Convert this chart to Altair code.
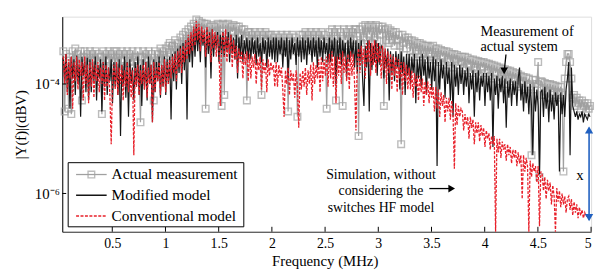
import altair as alt
import numpy as np
import pandas as pd

# Frequency bins (MHz), 0.0125 MHz spacing (397 bins)
FREQ = np.round(np.arange(0.04, 4.995, 0.0125), 4)

# log10 |Y(f)| values (one row = 0.25 MHz)
ACTUAL = [
    -3.4, -4.5, -3.45, -3.7, -4.45, -3.5, -4.55, -3.4, -3.6, -3.35, -3.65, -3.45, -3.8, -3.4, -4.3, -3.5, -3.4, -3.7, -3.45, -3.6,
    -3.4, -3.65, -3.45, -3.55, -3.4, -3.75, -3.45, -3.6, -3.5, -4.55, -3.4, -3.7, -3.45, -3.55, -3.4, -3.8, -3.45, -3.6, -3.4, -3.7,
    -3.4, -3.6, -3.45, -3.75, -3.4, -3.55, -3.45, -3.7, -3.4, -3.85, -3.45, -3.6, -3.4, -3.7, -3.5, -3.55, -3.4, -3.75, -4.7, -3.5,
    -3.4, -3.65, -3.45, -3.55, -3.4, -3.8, -3.45, -3.6, -4.3, -3.4, -3.7, -3.45, -3.55, -3.35, -3.65, -3.4, -3.6, -3.35, -3.55, -3.3,
    -3.25, -3.5, -3.3, -3.45, -3.2, -3.55, -3.25, -3.4, -3.15, -3.5, -3.1, -3.35, -3.05, -3.3, -3.0, -3.25, -2.95, -3.2, -2.9, -3.1,
    -2.82, -3.05, -2.85, -3.15, -2.88, -3.0, -2.9, -4.45, -2.9, -3.1, -2.95, -3.2, -2.92, -3.05, -2.95, -3.15, -2.9, -3.1, -2.92, -4.4,
    -2.9, -4.2, -2.92, -3.1, -2.9, -3.2, -2.95, -3.05, -2.92, -3.15, -2.95, -3.25, -2.95, -3.1, -3.0, -3.2, -3.0, -3.15, -4.3, -3.05,
    -3.05, -3.3, -3.1, -3.2, -3.05, -3.35, -3.1, -3.25, -3.05, -4.2, -3.1, -3.3, -3.05, -3.2, -3.1, -3.35, -3.1, -3.25, -3.15, -3.3,
    -3.1, -3.3, -3.15, -3.25, -3.1, -3.4, -3.15, -3.3, -3.1, -4.5, -3.15, -3.35, -3.1, -3.25, -3.15, -3.4, -4.6, -3.3, -3.1, -3.35,
    -3.1, -3.3, -3.05, -3.25, -3.1, -3.4, -3.05, -3.3, -3.1, -3.25, -3.05, -3.35, -3.1, -3.3, -3.05, -3.2, -3.1, -3.35, -4.45, -3.25,
    -3.05, -3.25, -3.0, -3.3, -3.05, -4.3, -3.0, -3.25, -3.05, -3.35, -4.4, -3.0, -3.2, -3.05, -3.3, -3.0, -3.25, -3.05, -3.2, -3.0,
    -3.0, -3.2, -4.95, -3.0, -3.25, -2.95, -3.15, -2.92, -3.2, -2.95, -3.1, -2.92, -3.25, -2.95, -3.15, -2.92, -3.2, -2.95, -3.1, -3.0,
    -2.95, -4.4, -3.0, -3.2, -2.98, -3.25, -3.02, -3.2, -3.05, -3.3, -3.05, -3.2, -3.1, -3.3, -5.1, -3.1, -3.25, -3.15, -3.35, -3.15,
    -3.2, -3.4, -3.2, -3.5, -3.22, -3.4, -3.25, -3.45, -3.25, -3.5, -3.28, -3.45, -3.3, -3.55, -3.3, -3.45, -3.32, -3.5, -3.3, -3.55,
    -3.35, -3.55, -3.35, -3.6, -3.38, -3.5, -3.4, -3.65, -3.4, -3.55, -3.42, -3.6, -3.45, -3.7, -3.45, -3.55, -3.47, -3.65, -3.5, -3.6,
    -3.5, -3.7, -3.5, -3.75, -3.52, -3.65, -3.55, -3.8, -3.55, -3.7, -3.57, -3.75, -3.58, -3.85, -3.6, -3.7, -3.6, -3.8, -3.62, -3.75,
    -3.63, -3.85, -3.65, -3.9, -3.66, -3.8, -3.68, -3.95, -3.7, -3.85, -3.72, -3.9, -3.73, -4.0, -3.75, -3.9, -3.76, -3.95, -3.78, -3.9,
    -3.8, -4.0, -3.82, -4.05, -3.85, -3.95, -3.87, -4.1, -3.88, -4.0, -3.9, -4.05, -5.3, -3.92, -4.1, -3.93, -4.0, -3.6, -5.7, -3.95,
    -3.96, -4.2, -3.98, -4.15, -4.0, -4.25, -4.0, -4.15, -4.02, -4.2, -4.03, -4.25, -4.05, -4.15, -4.05, -4.2, -5.6, -3.9, -3.6, -3.45,
    -3.45, -3.6, -3.9, -4.25, -4.2, -4.4, -4.25, -4.35, -4.3, -4.45, -4.3, -4.4, -4.35, -4.5, -4.35, -4.45, -4.4,
]

MODIFIED = [
    -3.5, -3.95, -3.45, -4.15, -3.6, -4.45, -3.5, -3.9, -3.55, -4.2, -3.48, -4.0, -3.65, -4.6, -3.5, -3.85, -3.6, -4.15, -3.52, -4.3,
    -3.55, -4.15, -3.6, -3.95, -3.5, -4.3, -3.65, -3.9, -3.55, -4.5, -3.6, -4.05, -3.5, -4.2, -3.7, -3.95, -3.55, -4.35, -3.6, -4.05,
    -3.6, -4.2, -3.55, -4.95, -3.65, -4.05, -3.5, -4.25, -3.6, -4.6, -3.55, -4.0, -3.7, -4.3, -3.6, -4.05, -3.5, -4.2, -3.65, -4.4,
    -3.55, -4.1, -3.6, -4.3, -3.5, -4.0, -3.65, -4.7, -3.55, -4.15, -3.6, -3.95, -3.5, -4.25, -3.65, -4.05, -3.5, -4.2, -3.55, -4.0,
    -3.5, -4.65, -3.45, -3.95, -3.4, -4.1, -3.35, -3.8, -3.3, -4.0, -3.25, -3.75, -3.2, -4.65, -3.15, -3.6, -3.1, -3.7, -3.0, -3.5,
    -2.95, -3.4, -3.0, -3.6, -2.97, -3.3, -3.05, -3.7, -3.0, -3.45, -3.05, -3.9, -3.0, -3.5, -3.1, -3.35, -3.05, -3.6, -3.1, -3.45,
    -3.05, -3.5, -3.1, -3.4, -3.05, -3.6, -3.1, -3.45, -3.15, -3.55, -3.1, -3.9, -3.15, -3.5, -3.1, -3.6, -3.2, -3.45, -3.15, -3.55,
    -3.2, -3.55, -3.15, -3.45, -3.2, -3.65, -3.15, -3.5, -3.25, -3.6, -3.15, -3.45, -3.2, -3.7, -3.15, -3.5, -3.2, -3.55, -3.15, -3.6,
    -3.15, -3.6, -3.2, -3.45, -3.15, -3.7, -3.2, -3.5, -3.15, -3.9, -3.2, -3.55, -3.15, -3.45, -3.25, -3.65, -3.15, -3.5, -3.2, -3.6,
    -3.15, -3.55, -3.2, -3.65, -3.15, -3.45, -3.2, -3.6, -3.15, -3.5, -3.2, -3.7, -3.15, -3.5, -3.2, -3.6, -3.15, -3.45, -3.25, -3.6,
    -3.15, -3.6, -3.2, -3.5, -3.15, -4.0, -3.2, -3.55, -3.15, -3.65, -3.2, -3.5, -3.25, -3.9, -3.2, -3.6, -3.15, -3.5, -3.2, -3.7,
    -3.2, -3.8, -3.25, -3.6, -3.2, -3.9, -4.4, -3.3, -3.7, -3.2, -4.5, -3.25, -3.75, -3.3, -3.6, -3.2, -3.85, -3.25, -3.65, -3.3,
    -3.35, -3.9, -3.4, -3.7, -3.35, -4.3, -3.4, -3.8, -3.45, -3.95, -3.4, -3.7, -3.45, -4.1, -3.4, -3.8, -3.5, -4.2, -3.45, -3.85,
    -3.45, -4.0, -3.5, -3.8, -3.45, -4.35, -3.55, -3.9, -3.5, -4.05, -3.45, -3.85, -3.55, -4.2, -3.5, -3.9, -3.6, -4.1, -3.5, -3.95,
    -3.55, -5.5, -3.6, -4.1, -3.55, -3.9, -3.65, -4.25, -3.6, -4.0, -3.7, -4.3, -3.6, -4.6, -3.65, -4.05, -3.7, -4.2, -3.65, -4.0,
    -3.7, -4.2, -3.75, -4.05, -3.7, -4.35, -3.8, -4.1, -3.75, -4.6, -3.8, -4.15, -3.75, -4.3, -3.85, -4.05, -3.8, -4.4, -3.8, -4.15,
    -3.85, -4.3, -3.8, -5.15, -3.9, -4.2, -3.85, -4.45, -3.9, -4.15, -3.85, -4.35, -3.9, -4.8, -3.95, -4.25, -3.9, -4.4, -3.95, -4.2,
    -3.95, -4.4, -3.9, -3.7, -4.3, -4.0, -4.5, -3.95, -4.35, -4.05, -4.55, -4.0, -4.4, -5.3, -4.05, -4.5, -4.1, -4.4, -5.65, -4.15,
    -4.1, -4.6, -4.05, -4.45, -4.15, -4.7, -4.1, -4.5, -4.2, -4.65, -4.15, -4.4, -4.2, -5.6, -4.15, -4.55, -4.2, -4.6, -4.1, -3.9,
    -3.6, -5.3, -3.7, -4.4, -4.5, -4.6, -4.5, -4.65, -4.55, -4.6, -4.5, -4.7, -4.55, -4.6, -4.65, -4.55, -4.6,
]

CONVENTIONAL = [
    -3.5, -4.0, -3.45, -4.2, -3.55, -3.9, -3.5, -4.45, -3.6, -3.95, -3.5, -4.1, -3.55, -3.85, -3.6, -4.3, -3.5, -4.0, -3.65, -4.35,
    -3.6, -4.05, -3.55, -4.25, -3.65, -3.95, -3.6, -4.15, -3.7, -4.0, -3.6, -4.3, -3.65, -4.05, -3.7, -4.2, -5.1, -3.9, -3.65, -4.1,
    -3.6, -4.2, -3.7, -4.0, -3.65, -4.3, -3.75, -4.05, -3.6, -4.15, -3.7, -4.25, -3.75, -5.3, -3.7, -4.05, -3.65, -4.2, -3.75, -4.0,
    -3.65, -4.1, -3.6, -4.25, -3.7, -4.0, -3.65, -4.7, -3.6, -4.15, -3.7, -3.95, -3.6, -4.2, -3.65, -4.05, -3.55, -4.15, -3.6, -4.0,
    -3.55, -3.9, -3.5, -3.8, -3.45, -3.95, -3.4, -3.7, -3.35, -3.8, -3.3, -3.6, -3.2, -3.55, -3.1, -3.45, -3.05, -3.4, -2.95, -3.3,
    -2.85, -3.2, -2.9, -3.4, -2.95, -3.25, -3.0, -3.5, -2.95, -3.3, -3.05, -3.6, -3.0, -3.35, -3.05, -3.5, -3.1, -3.3, -4.4, -3.2,
    -3.05, -3.5, -3.0, -3.6, -3.15, -3.45, -3.1, -3.7, -3.2, -3.55, -3.3, -3.8, -3.35, -3.6, -3.4, -3.9, -3.45, -3.65, -3.4, -3.95,
    -3.45, -3.9, -3.5, -3.7, -3.45, -4.0, -3.55, -3.75, -3.5, -4.1, -3.55, -3.8, -3.6, -4.15, -3.55, -3.85, -3.6, -3.75, -3.65, -4.05,
    -3.6, -4.05, -3.65, -3.85, -3.7, -4.1, -4.6, -3.75, -4.0, -3.7, -4.2, -3.75, -3.95, -3.8, -4.25, -3.75, -4.05, -4.8, -3.8, -4.1,
    -3.75, -4.05, -3.7, -4.2, -3.75, -4.0, -3.65, -4.3, -3.6, -4.0, -3.65, -3.9, -3.55, -4.15, -3.5, -3.95, -3.55, -3.85, -3.5, -4.05,
    -3.45, -3.9, -3.4, -4.05, -3.5, -4.35, -3.5, -3.85, -3.45, -4.0, -3.4, -3.8, -3.5, -3.95, -3.45, -4.1, -3.4, -3.85, -3.45, -4.0,
    -4.85, -3.55, -3.35, -3.8, -3.3, -3.65, -3.35, -3.9, -3.25, -3.6, -3.2, -3.85, -3.25, -3.65, -3.2, -3.8, -3.25, -3.6, -3.3, -3.9,
    -3.3, -3.75, -3.35, -4.0, -3.4, -3.8, -3.45, -4.1, -3.5, -3.85, -3.5, -4.15, -3.55, -3.9, -3.6, -4.2, -3.6, -3.95, -3.65, -4.1,
    -3.7, -4.1, -3.75, -4.25, -3.8, -4.05, -3.85, -4.3, -3.85, -4.15, -3.9, -4.4, -3.95, -4.2, -3.95, -4.35, -4.0, -4.25, -4.05, -4.5,
    -4.05, -4.45, -4.1, -4.6, -4.15, -4.4, -4.2, -4.7, -4.25, -4.5, -4.25, -4.65, -4.3, -4.55, -5.55, -4.35, -4.75, -4.4, -4.6, -4.45,
    -4.5, -4.85, -4.55, -4.75, -4.6, -5.0, -4.6, -4.8, -4.65, -5.1, -4.7, -4.9, -4.7, -5.05, -4.75, -4.95, -4.8, -5.15, -4.85, -5.0,
    -4.9, -5.2, -4.95, -5.1, -4.95, -6.7, -5.0, -5.25, -5.0, -5.35, -5.05, -5.2, -5.1, -5.4, -5.1, -5.3, -5.15, -5.45, -5.2, -5.35,
    -5.2, -5.5, -5.25, -5.45, -5.3, -6.1, -5.3, -5.6, -5.35, -5.5, -6.7, -5.4, -5.7, -5.45, -5.6, -5.5, -5.8, -5.5, -6.6, -5.6,
    -5.65, -5.95, -5.7, -6.1, -5.75, -5.95, -5.8, -6.2, -5.85, -6.05, -6.7, -5.9, -6.15, -5.95, -6.25, -6.0, -6.2, -6.05, -6.35, -6.1,
    -6.05, -6.3, -6.1, -6.4, -6.15, -6.35, -6.2, -6.45, -6.25, -6.4, -6.3, -6.45, -6.35, -6.42, -6.4, -6.45, -6.42,
]

X_TICKS = [0.5, 1, 1.5, 2, 2.5, 3, 3.5, 4, 4.5, 5]
Y_TICKS = [1e-4, 1e-6]
LEGEND_LABELS = ["Actual measurement", "Modified model", "Conventional model"]

GRAY = "#a0a0a0"
BLACK = "#151515"
RED = "#e8202a"
BLUE = "#2060c0"
FONT = "Liberation Serif"

n = min(len(FREQ), len(ACTUAL), len(MODIFIED), len(CONVENTIONAL))


def frame(vals):
    return pd.DataFrame({"f": FREQ[:n], "y": np.power(10.0, np.array(vals[:n]))})


df_act, df_mod, df_conv = frame(ACTUAL), frame(MODIFIED), frame(CONVENTIONAL)

xs = alt.Scale(domain=[0.03, 5], nice=False, zero=False)
ys = alt.Scale(type="log", domain=[2e-7, 1.7e-3], nice=False)

X = alt.X("f:Q", scale=xs, axis=alt.Axis(
    values=X_TICKS, format="~g", title="Frequency (MHz)", grid=False,
    ticks=False, tickSize=0, labelPadding=5, labelFontSize=14, labelFont=FONT,
    labelColor="black", domainColor="#333333", titleFont=FONT, titleFontSize=15,
    titleFontWeight="normal", titleColor="black", titleX=266, titleY=29,
    titleBaseline="middle", titleAlign="center"))
Y = alt.Y("y:Q", scale=ys, axis=alt.Axis(
    values=Y_TICKS, labelExpr="'10' + (datum.value > 1e-5 ? '⁻⁴' : '⁻⁶')",
    title="|Y(f)|(dBV)", grid=False, ticks=False, tickSize=0, labelPadding=3,
    labelFontSize=15, labelFont=FONT, labelColor="black", domainColor="black",
    titleFont=FONT, titleFontSize=15, titleFontWeight="normal", titleColor="black",
    titleAngle=270, titleX=-42, titleY=109, titleAlign="center", titleBaseline="middle"))

gray_line = alt.Chart(df_act).mark_line(color=GRAY, strokeWidth=1.2).encode(x=X, y=Y)
gray_pts = alt.Chart(df_act).mark_point(shape="square", size=45, filled=False,
                                        color=GRAY, strokeWidth=1.4).encode(x=X, y=Y)
black_line = alt.Chart(df_mod).mark_line(color=BLACK, strokeWidth=1.2).encode(x=X, y=Y)
red_line = alt.Chart(df_conv).mark_line(color=RED, strokeWidth=1.3,
                                        strokeDash=[3, 1.5]).encode(x=X, y=Y)

# inward ticks
xt = alt.Chart(pd.DataFrame({"f": X_TICKS})).mark_rule(color="black", strokeWidth=1).encode(
    x=alt.X("f:Q", scale=xs), y=alt.value(218), y2=alt.value(213))
yt = alt.Chart(pd.DataFrame({"y": Y_TICKS})).mark_rule(color="black", strokeWidth=1).encode(
    y=alt.Y("y:Q", scale=ys), x=alt.value(0), x2=alt.value(4))

# annotations (data coordinates)
meas_txt = alt.Chart(pd.DataFrame({
    "f": [3.96, 3.96], "y": [10 ** -3.05, 10 ** -3.32],
    "t": ["Measurement of", "actual system"]})).mark_text(
    align="left", baseline="middle", font=FONT, fontSize=14.5, color="black").encode(
    x=alt.X("f:Q", scale=xs), y=alt.Y("y:Q", scale=ys), text="t:N")
sim_txt = alt.Chart(pd.DataFrame({
    "f": [3.025, 3.025, 3.025], "y": [10 ** -5.66, 10 ** -5.96, 10 ** -6.27],
    "t": ["Simulation, without", "considering the", "switches HF model"]})).mark_text(
    align="center", baseline="middle", font=FONT, fontSize=14, color="black").encode(
    x=alt.X("f:Q", scale=xs), y=alt.Y("y:Q", scale=ys), text="t:N")

arrow1 = alt.Chart(pd.DataFrame({"f": [4.20, 4.185], "y": [10 ** -3.46, 10 ** -3.74]})).mark_line(
    color="black", strokeWidth=1.3).encode(x=alt.X("f:Q", scale=xs), y=alt.Y("y:Q", scale=ys))
head1 = alt.Chart(pd.DataFrame({"f": [4.183], "y": [10 ** -3.76]})).mark_point(
    shape="triangle-down", filled=True, color="black", size=60, opacity=1).encode(
    x=alt.X("f:Q", scale=xs), y=alt.Y("y:Q", scale=ys))
arrow2 = alt.Chart(pd.DataFrame({"f": [3.48, 3.68], "y": [10 ** -5.91, 10 ** -5.91]})).mark_line(
    color="black", strokeWidth=1.3).encode(x=alt.X("f:Q", scale=xs), y=alt.Y("y:Q", scale=ys))
head2 = alt.Chart(pd.DataFrame({"f": [3.69], "y": [10 ** -5.91]})).mark_point(
    shape="triangle-right", filled=True, color="black", size=60, opacity=1).encode(
    x=alt.X("f:Q", scale=xs), y=alt.Y("y:Q", scale=ys))
arrow3 = alt.Chart(pd.DataFrame({"f": [4.981, 4.981], "y": [10 ** -4.80, 10 ** -6.48]})).mark_line(
    color=BLUE, strokeWidth=1.6).encode(x=alt.X("f:Q", scale=xs), y=alt.Y("y:Q", scale=ys))
head3 = alt.Chart(pd.DataFrame({"f": [4.981, 4.981], "y": [10 ** -4.84, 10 ** -6.44],
                                "s": ["triangle-up", "triangle-down"]})).mark_point(
    filled=True, color=BLUE, size=70, opacity=1).encode(
    x=alt.X("f:Q", scale=xs), y=alt.Y("y:Q", scale=ys), shape=alt.Shape("s:N", scale=None))
x_txt = alt.Chart(pd.DataFrame({"f": [4.895], "y": [10 ** -5.66], "t": ["x"]})).mark_text(
    font=FONT, fontSize=15, color="black", baseline="middle").encode(
    x=alt.X("f:Q", scale=xs), y=alt.Y("y:Q", scale=ys), text="t:N")

# legend
one = pd.DataFrame({"k": [0]})
leg_box = alt.Chart(one).mark_rect(fill="white", stroke="black", strokeWidth=1).encode(
    x=alt.value(6), x2=alt.value(184), y=alt.value(148), y2=alt.value(213))
leg_g = alt.Chart(one).mark_rule(color=GRAY, strokeWidth=1.3).encode(
    x=alt.value(14), x2=alt.value(45), y=alt.value(160))
leg_gp = alt.Chart(one).mark_point(shape="square", size=45, filled=False, color=GRAY,
                                   strokeWidth=1.4).encode(x=alt.value(29.5), y=alt.value(160))
leg_b = alt.Chart(one).mark_rule(color=BLACK, strokeWidth=1.5).encode(
    x=alt.value(14), x2=alt.value(45), y=alt.value(181))
leg_r = alt.Chart(one).mark_rule(color=RED, strokeWidth=1.6, strokeDash=[3, 1.5]).encode(
    x=alt.value(14), x2=alt.value(45), y=alt.value(202))
leg_txt = [
    alt.Chart(one).mark_text(align="left", baseline="middle", font=FONT, fontSize=15.5,
                             color="black", text=lab).encode(x=alt.value(50), y=alt.value(yy))
    for lab, yy in zip(LEGEND_LABELS, [160, 181, 202])
]

chart = alt.layer(
    gray_line, gray_pts, black_line, red_line, xt, yt,
    meas_txt, sim_txt, arrow1, head1, arrow2, head2, arrow3, head3, x_txt,
    leg_box, leg_g, leg_gp, leg_b, leg_r, *leg_txt,
).properties(
    width=536, height=218,
    autosize=alt.AutoSizeParams(type="none"),
    padding={"left": 55, "top": 7, "right": 7, "bottom": 37},
).configure_view(stroke=None).configure(background="white")

chart.save("out.html", embed_options={"renderer": "svg", "actions": False})
